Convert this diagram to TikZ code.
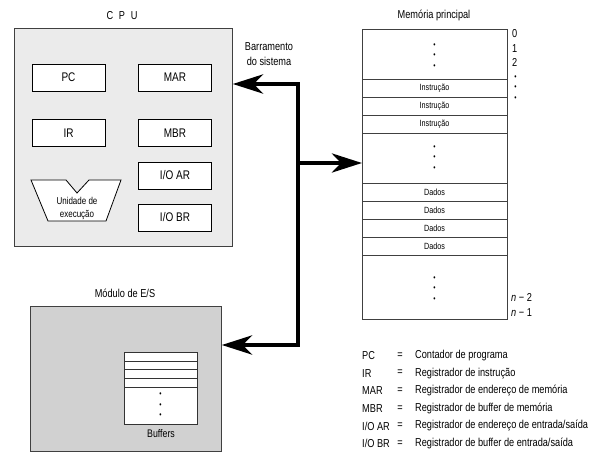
\documentclass[tikz,border=0pt]{standalone}
\usepackage{fontspec}
\setmainfont{Liberation Sans}[FakeStretch=0.8]
\usetikzlibrary{positioning,arrows.meta}

\begin{document}
\begin{tikzpicture}[x=1pt,y=-1pt,
    box/.style={draw=black!75,line width=0.8pt,anchor=north west,inner sep=0pt},
    reg/.style={draw,fill=white,line width=0.8pt,minimum width=73pt,minimum height=27pt,inner sep=0pt,font=\fontsize{12.5}{14}\selectfont},
    cell/.style={draw=black!75,fill=white,line width=0.8pt,minimum width=145pt,inner sep=0pt,outer sep=0pt,font=\fontsize{9}{10}\selectfont},
    buf/.style={draw=black!80,fill=white,line width=0.8pt,minimum width=73pt,inner sep=0pt,outer sep=0pt},
    lbl/.style={font=\fontsize{11.5}{13}\selectfont,inner sep=0pt},
    dots/.style={align=center,inner sep=0pt,font=\fontsize{8}{10.5}\selectfont},
    bus/.style={line width=4.5pt,line join=miter,
      arrows={Stealth[length=30pt,width=19pt,inset=9pt]-Stealth[length=30pt,width=19pt,inset=9pt]}}]
  \useasboundingbox (0,0) rectangle (592,457);

  % CPU
  \node[box,fill=black!8,minimum width=218pt,minimum height=218pt] (cpu) at (14,28) {};
  \node[lbl] (cputitle) at (122,16) {C\enspace P\enspace U};
  \node[reg] (pc) at (68.5,77.5) {PC};
  \node[reg] (mar) at (175,77.5) {MAR};
  \node[reg] (ir) at (68.5,133) {IR};
  \node[reg] (mbr) at (175,133) {MBR};
  \node[reg] (ioar) at (175,175.5) {I/O AR};
  \node[reg] (iobr) at (175,217.5) {I/O BR};
  \draw[fill=white,line width=0.8pt] (31,180) -- (66,180) -- (77,193) -- (89,180) -- (121,180)
    -- (106,221) -- (48,221) -- cycle;
  \node[align=center,inner sep=0pt,font=\fontsize{10}{13}\selectfont] (exec) at (77,208) {Unidade de\\execução};

  % bus
  \node[lbl,align=center,font=\fontsize{11.5}{15}\selectfont] (buslbl) at (269,54.5) {Barramento\\do sistema};
  \coordinate (b1) at (298,84);
  \coordinate (b2) at (298,345);
  \coordinate (b3) at (298,163);

  % main memory
  \node[lbl] (memtitle) at (434,15) {Memória principal};
  \node[cell,minimum height=50pt,anchor=north west] (m1) at (362,29) {};
  \node[cell,minimum height=18pt,below=0pt of m1] (m2) {Instrução};
  \node[cell,minimum height=18pt,below=0pt of m2] (m3) {Instrução};
  \node[cell,minimum height=18pt,below=0pt of m3] (m4) {Instrução};
  \node[cell,minimum height=50pt,below=0pt of m4] (m5) {};
  \node[cell,minimum height=18pt,below=0pt of m5] (m6) {Dados};
  \node[cell,minimum height=18pt,below=0pt of m6] (m7) {Dados};
  \node[cell,minimum height=18pt,below=0pt of m7] (m8) {Dados};
  \node[cell,minimum height=18pt,below=0pt of m8] (m9) {Dados};
  \node[cell,minimum height=64pt,below=0pt of m9] (m10) {};
  \node[dots] (d1) at ([yshift=-2pt]m1) {\textbullet\\\textbullet\\\textbullet};
  \node[dots] (d2) at (m5) {\textbullet\\\textbullet\\\textbullet};
  \node[dots] (d3) at ([yshift=-2pt]m10) {\textbullet\\\textbullet\\\textbullet};
  \node[lbl,anchor=west,align=left,font=\fontsize{11.5}{14.5}\selectfont] (addr) at (512,48) {0\\1\\2};
  \node[dots] (d4) at (515.5,88) {\textbullet\\\textbullet\\\textbullet};
  \node[lbl,anchor=west,align=left,font=\fontsize{11.5}{14.5}\selectfont] (addrn) at (511,305) {\textit{n} − 2\\\textit{n} − 1};

  % I/O module
  \node[lbl] (iotitle) at (125,293) {Módulo de E/S};
  \node[box,fill=black!18,minimum width=191pt,minimum height=145pt] (io) at (30,306) {};
  \node[buf,minimum height=9pt,anchor=north west] (u1) at (124,352) {};
  \node[buf,minimum height=8.5pt,below=0pt of u1] (u2) {};
  \node[buf,minimum height=8.5pt,below=0pt of u2] (u3) {};
  \node[buf,minimum height=9pt,below=0pt of u3] (u4) {};
  \node[buf,minimum height=37pt,below=0pt of u4] (u5) {};
  \node[dots] (d5) at (u5) {\textbullet\\\textbullet\\\textbullet};
  \node[lbl,font=\fontsize{11}{12}\selectfont] (buflbl) at (161,434) {Buffers};

  % connectors
  \draw[bus] (cpu.east |- b1) -- (b1) -- (b2) -- (io.east |- b2);
  \draw[bus,arrows=-{Stealth[length=30pt,width=19pt,inset=9pt]}] (b3) -- (b3 -| m5.west);

  % legend
  \foreach \k/\v [count=\i from 0] in {PC/Contador de programa,
      IR/Registrador de instrução,
      MAR/Registrador de endereço de memória,
      MBR/Registrador de buffer de memória,
      {I/O AR}/{Registrador de endereço de entrada/saída},
      {I/O BR}/{Registrador de buffer de entrada/saída}} {
    \node[lbl,anchor=west] (k\i) at (362,355.5+17.6*\i) {\k};
    \node[lbl] (e\i) at (400,355.5+17.6*\i) {=};
    \node[lbl,anchor=west] (v\i) at (415,355.5+17.6*\i) {\v};
  }
\end{tikzpicture}
\end{document}
